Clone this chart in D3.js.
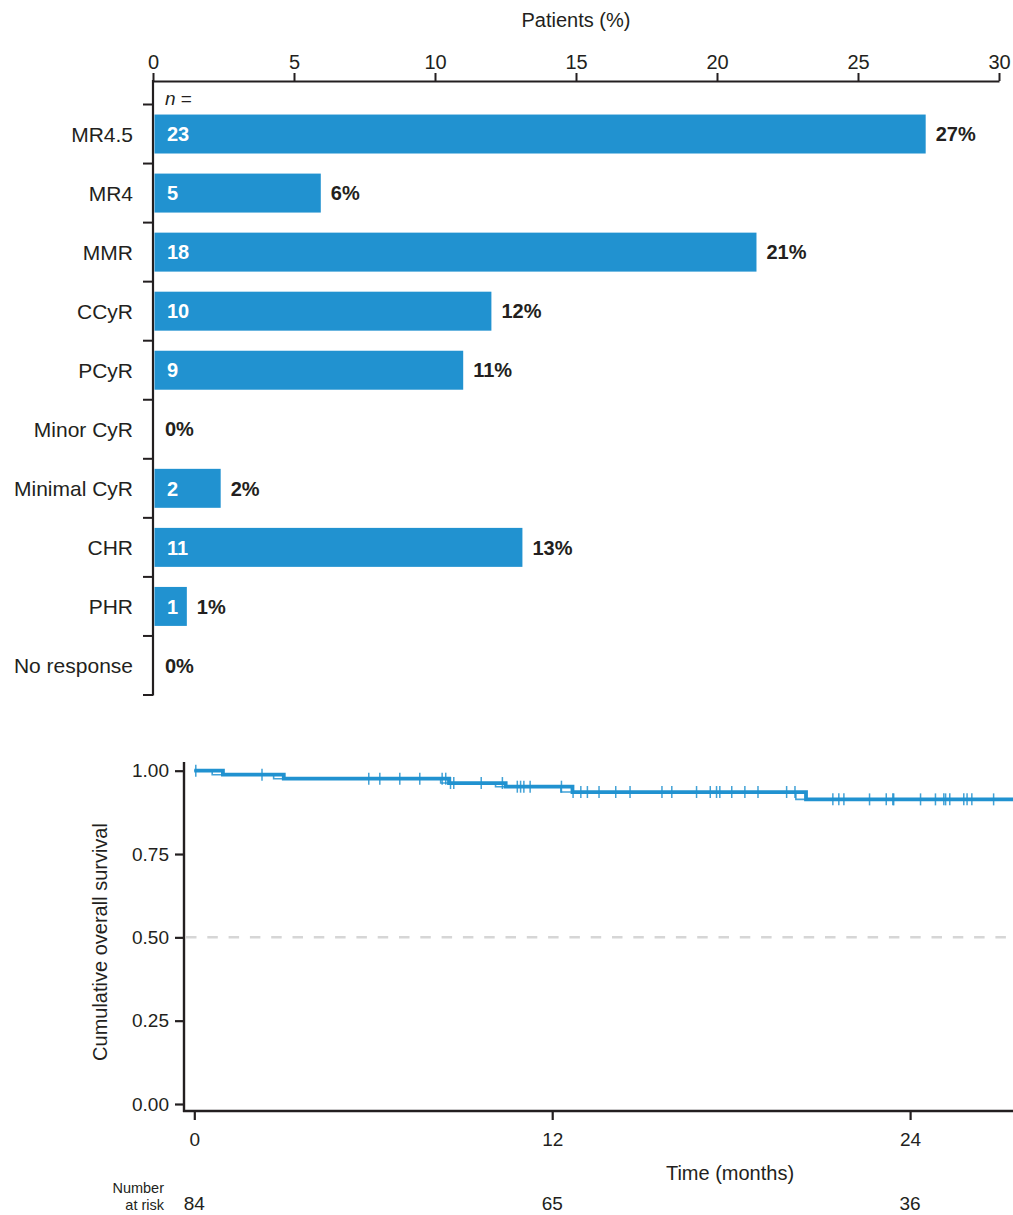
<!DOCTYPE html>
<html>
<head>
<meta charset="utf-8">
<script src="https://cdn.jsdelivr.net/npm/d3@7"></script>
<style>
  html, body { margin: 0; padding: 0; background: #fff; }
  svg { display: block; font-family: "Liberation Sans", Arial, Helvetica, sans-serif; }
</style>
</head>
<body>
<svg id="chart" width="1013" height="1215"></svg>
<script>
// ---- Best response (bar chart) ----
const categories = ["MR4.5", "MR4", "MMR", "CCyR", "PCyR", "Minor CyR", "Minimal CyR", "CHR", "PHR", "No response"];
const patientCounts = [23, 5, 18, 10, 9, 0, 2, 11, 1, 0];
const patientPercents = [27.4, 5.95, 21.4, 12.0, 11.0, 0, 2.4, 13.1, 1.2, 0];
const percentTicks = [0, 5, 10, 15, 20, 25, 30];

// ---- Overall survival (Kaplan-Meier) ----
const eventTimes = [0.96, 3.0, 8.54, 10.44, 12.68, 20.51];
const survivalAfterEvent = [0.988, 0.976, 0.963, 0.952, 0.936, 0.914];
const shadowEventTimes = [0.6, 2.66, 8.26, 10.1, 12.29, 20.17];
const censorTimes = [
  0.05, 2.27,
  5.85, 6.22, 6.89, 7.56, 8.31, 8.43,
  8.59, 8.70, 9.62, 10.33,
  10.83, 10.94, 11.05, 11.26, 12.31,
  12.70, 12.96, 13.18, 13.57, 14.13, 14.61, 15.68, 16.01, 16.84, 17.30, 17.51, 17.62, 18.02, 18.46, 18.90, 19.86, 20.14,
  21.41, 21.61, 21.78, 22.64, 23.20, 23.42, 23.45, 24.35, 24.85, 25.13, 25.19, 25.33, 25.80, 25.91, 26.07, 26.80
];
const monthTicks = [0, 12, 24];
const numberAtRisk = [84, 65, 36];
const survivalTicks = [0, 0.25, 0.5, 0.75, 1];
const maxMonths = 27.45;

const ink = "#231f20";
const blue = "#2192d0";
const svg = d3.select("#chart");

// ================= Bar chart =================
const x = d3.scaleLinear().domain([0, 30]).range([153, 999]);
const y = d3.scaleBand().domain(categories).range([104.5, 695])
  .paddingInner(0.34).paddingOuter(0.17);
const step = y.step();

const barPanel = svg.append("g");

barPanel.append("text")
  .attr("x", (x(0) + x(30)) / 2).attr("y", 27)
  .attr("text-anchor", "middle").attr("font-size", 20).attr("fill", ink)
  .text("Patients (%)");

const xAxis = barPanel.append("g").attr("transform", "translate(0,81)")
  .call(d3.axisTop(x).tickValues(percentTicks).tickSize(8).tickPadding(4).tickSizeOuter(0));
xAxis.select(".domain").attr("stroke", ink).attr("stroke-width", 2.2);
xAxis.selectAll(".tick line").attr("stroke", ink).attr("stroke-width", 2);
xAxis.selectAll(".tick text").attr("font-size", 20).attr("fill", ink)
  .attr("font-family", "Liberation Sans, Arial, sans-serif");

// vertical axis with ticks at band boundaries
barPanel.append("line")
  .attr("x1", x(0)).attr("x2", x(0)).attr("y1", 80).attr("y2", 695.5)
  .attr("stroke", ink).attr("stroke-width", 2.2);
barPanel.selectAll("line.bound")
  .data(d3.range(categories.length + 1))
  .join("line").attr("class", "bound")
  .attr("x1", x(0) - 10).attr("x2", x(0))
  .attr("y1", i => y.range()[0] + i * step).attr("y2", i => y.range()[0] + i * step)
  .attr("stroke", ink).attr("stroke-width", 2);

barPanel.selectAll("text.cat")
  .data(categories)
  .join("text").attr("class", "cat")
  .attr("x", 133).attr("y", d => y(d) + y.bandwidth() / 2)
  .attr("dy", "0.36em").attr("text-anchor", "end")
  .attr("font-size", 21).attr("fill", ink)
  .text(d => d);

const nLabel = barPanel.append("text").attr("x", 165).attr("y", 105)
  .attr("font-size", 19).attr("fill", ink);
nLabel.append("tspan").attr("font-style", "italic").text("n");
nLabel.append("tspan").text(" =");

const rows = categories.map((c, i) => ({ c, n: patientCounts[i], p: patientPercents[i] }));

barPanel.selectAll("rect.bar")
  .data(rows.filter(d => d.n > 0))
  .join("rect").attr("class", "bar")
  .attr("x", x(0) + 1.5).attr("y", d => y(d.c))
  .attr("width", d => x(d.p) - x(0) - 1.5).attr("height", y.bandwidth())
  .attr("fill", blue);

barPanel.selectAll("text.count")
  .data(rows.filter(d => d.n > 0))
  .join("text").attr("class", "count")
  .attr("x", x(0) + 14).attr("y", d => y(d.c) + y.bandwidth() / 2)
  .attr("dy", "0.36em").attr("font-size", 20).attr("font-weight", "bold")
  .attr("fill", "#fff").text(d => d.n);

barPanel.selectAll("text.pct")
  .data(rows)
  .join("text").attr("class", "pct")
  .attr("x", d => x(d.p) + (d.n > 0 ? 10 : 12)).attr("y", d => y(d.c) + y.bandwidth() / 2)
  .attr("dy", "0.36em").attr("font-size", 20).attr("font-weight", "bold")
  .attr("fill", ink).text(d => Math.round(d.p) + "%");

// ================= Survival curve =================
const tx = d3.scaleLinear().domain([0, maxMonths]).range([194.3, 1013]);
const sy = d3.scaleLinear().domain([0, 1]).range([1104, 770.7]);

const km = svg.append("g");

// reference line at median survival
km.append("line")
  .attr("x1", 186).attr("x2", 1013).attr("y1", sy(0.5)).attr("y2", sy(0.5))
  .attr("stroke", "#d6d6d6").attr("stroke-width", 2.5).attr("stroke-dasharray", "10.5,10.8");

// y axis
const yAxis = km.append("g").attr("transform", "translate(184,0)")
  .call(d3.axisLeft(sy).tickValues(survivalTicks).tickFormat(d3.format(".2f")).tickSize(9).tickPadding(6).tickSizeOuter(0));
yAxis.select(".domain").attr("stroke", ink).attr("stroke-width", 2.4)
  .attr("d", "M0,762V1112");
yAxis.selectAll(".tick line").attr("stroke", ink).attr("stroke-width", 2.2);
yAxis.selectAll(".tick text").attr("font-size", 19).attr("fill", ink)
  .attr("font-family", "Liberation Sans, Arial, sans-serif");

// x axis, offset below the zero level
const xAxis2 = km.append("g").attr("transform", "translate(0,1111)")
  .call(d3.axisBottom(tx).tickValues(monthTicks).tickSize(9).tickPadding(13).tickSizeOuter(0));
xAxis2.select(".domain").attr("stroke", ink).attr("stroke-width", 2.4)
  .attr("d", "M183,0H1013");
xAxis2.selectAll(".tick line").attr("stroke", ink).attr("stroke-width", 2.2);
xAxis2.selectAll(".tick text").attr("font-size", 19).attr("fill", ink)
  .attr("font-family", "Liberation Sans, Arial, sans-serif");

km.append("text")
  .attr("transform", "translate(107,942) rotate(-90)")
  .attr("text-anchor", "middle").attr("font-size", 20).attr("fill", ink)
  .text("Cumulative overall survival");

km.append("text")
  .attr("x", 730).attr("y", 1180)
  .attr("text-anchor", "middle").attr("font-size", 20).attr("fill", ink)
  .text("Time (months)");

km.append("text").attr("x", 164).attr("y", 1193)
  .attr("text-anchor", "end").attr("font-size", 14.5).attr("fill", ink).text("Number");
km.append("text").attr("x", 164).attr("y", 1210)
  .attr("text-anchor", "end").attr("font-size", 14.5).attr("fill", ink).text("at risk");

km.selectAll("text.risk")
  .data(monthTicks)
  .join("text").attr("class", "risk")
  .attr("x", d => tx(d)).attr("y", 1210)
  .attr("text-anchor", "middle").attr("font-size", 19).attr("fill", ink)
  .text((d, i) => numberAtRisk[i]);

function stepPoints(times) {
  const pts = [[0, 1]];
  times.forEach((t, i) => pts.push([t, survivalAfterEvent[i]]));
  pts.push([maxMonths, survivalAfterEvent[survivalAfterEvent.length - 1]]);
  return pts;
}
const stair = d3.line().x(d => tx(d[0])).y(d => sy(d[1])).curve(d3.curveStepAfter);

km.append("path")
  .attr("d", stair(stepPoints(shadowEventTimes)))
  .attr("fill", "none").attr("stroke", blue).attr("stroke-width", 1.6).attr("opacity", 0.85);

km.append("path")
  .attr("d", stair(stepPoints(eventTimes)))
  .attr("fill", "none").attr("stroke", blue).attr("stroke-width", 3.8);

function survivalAt(t) {
  let s = 1;
  eventTimes.forEach((e, i) => { if (e <= t) s = survivalAfterEvent[i]; });
  return s;
}
km.selectAll("line.censor")
  .data(censorTimes)
  .join("line").attr("class", "censor")
  .attr("x1", d => tx(d)).attr("x2", d => tx(d))
  .attr("y1", d => sy(survivalAt(d)) - 6).attr("y2", d => sy(survivalAt(d)) + 6)
  .attr("stroke", blue).attr("stroke-width", 1.5).attr("opacity", 0.85);
</script>
</body>
</html>
